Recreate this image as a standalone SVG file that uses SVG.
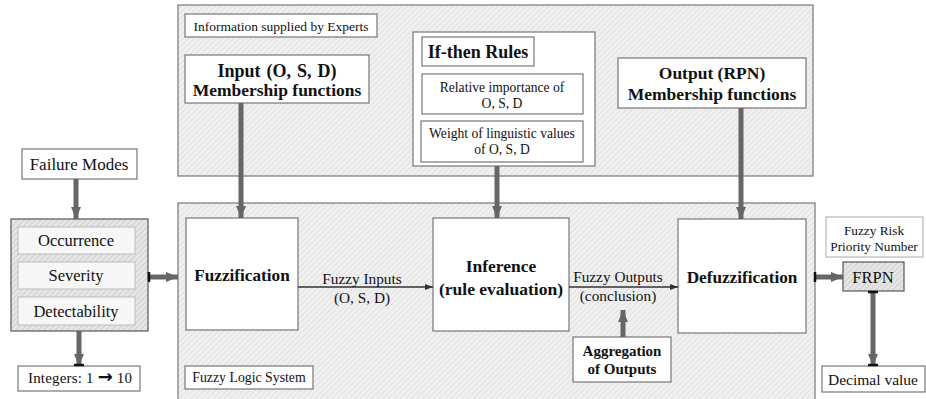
<svg xmlns="http://www.w3.org/2000/svg" width="926" height="399" viewBox="0 0 926 399" font-family="'Liberation Serif', 'Times New Roman', serif">
<defs>
<pattern id="hatch" patternUnits="userSpaceOnUse" width="4" height="4" patternTransform="rotate(45)">
<rect width="4" height="4" fill="#f0f0f0"/>
<line x1="0" y1="0" x2="0" y2="4" stroke="#dadada" stroke-width="1.3"/>
</pattern>
<pattern id="hatch2" patternUnits="userSpaceOnUse" width="4" height="4" patternTransform="rotate(45)">
<rect width="4" height="4" fill="#e6e6e6"/>
<line x1="0" y1="0" x2="0" y2="4" stroke="#c8c8c8" stroke-width="1.5"/>
</pattern>
<marker id="thick" markerUnits="userSpaceOnUse" markerWidth="14" markerHeight="14" refX="12" refY="7" orient="auto">
<path d="M0,2 L12,7 L0,12 Z" fill="#666"/>
</marker>
<marker id="thin" markerUnits="userSpaceOnUse" markerWidth="10" markerHeight="10" refX="8" refY="5" orient="auto">
<path d="M0,2 L8,5 L0,8 Z" fill="#333"/>
</marker>
</defs>
<style>
text{font-family:'Liberation Serif','Times New Roman',serif;fill:#111;text-anchor:middle}
.b{font-weight:bold}
.box{fill:#fff;stroke:#777;stroke-width:1.2}
.panel{fill:url(#hatch);stroke:#777;stroke-width:1.2}
.ta{stroke:#666;stroke-width:5;fill:none;marker-end:url(#thick)}
.na{stroke:#333;stroke-width:1.5;fill:none;marker-end:url(#thin)}
.tick{stroke:#111;stroke-width:2.5}
</style>

<g id="experts-panel">
<rect class="panel" x="178" y="5" width="635" height="171"/>
</g>
<g id="fls-panel">
<rect class="panel" x="178" y="203" width="637" height="200"/>
</g>

<g id="experts-label">
<rect class="box" x="185" y="14" width="192" height="23"/>
<text x="281" y="31" font-size="13.5">Information supplied by Experts</text>
</g>

<g id="input-mf">
<rect class="box" x="185" y="55" width="184" height="48"/>
<text class="b" x="277" y="77" font-size="18" word-spacing="1.5">Input (O, S, D)</text>
<text class="b" x="277" y="96" font-size="17.5">Membership functions</text>
</g>

<g id="rules">
<rect class="box" x="413" y="32" width="182" height="134"/>
<rect class="box" x="422" y="37" width="112" height="29"/>
<text class="b" x="478" y="58" font-size="18">If-then Rules</text>
<rect class="box" x="422" y="74" width="161" height="40"/>
<text x="502" y="92" font-size="13.6">Relative importance of</text>
<text x="502" y="108" font-size="13.6">O, S, D</text>
<rect class="box" x="421" y="121" width="162" height="41"/>
<text x="502" y="138" font-size="13.6">Weight of linguistic values</text>
<text x="502" y="154" font-size="13.6">of O, S, D</text>
</g>

<g id="output-mf">
<rect class="box" x="618" y="58" width="188" height="50"/>
<text class="b" x="712" y="79" font-size="17.5">Output (RPN)</text>
<text class="b" x="712" y="100" font-size="17.5">Membership functions</text>
</g>

<g id="failure-modes">
<rect class="box" x="22" y="149" width="115" height="30"/>
<text x="79" y="170" font-size="17">Failure Modes</text>
</g>

<g id="osd">
<rect x="11" y="219" width="137" height="112" fill="url(#hatch2)" stroke="#555" stroke-width="1.2"/>
<rect x="18" y="227" width="117" height="27" fill="#f7f7f7" stroke="#bbb"/>
<text x="76" y="246" font-size="16.5">Occurrence</text>
<rect x="18" y="262" width="117" height="27" fill="#f7f7f7" stroke="#bbb"/>
<text x="76" y="281" font-size="16.5">Severity</text>
<rect x="18" y="297" width="117" height="28" fill="#f7f7f7" stroke="#bbb"/>
<text x="76" y="317" font-size="16.5">Detectability</text>
</g>

<g id="integers">
<rect class="box" x="18" y="366" width="122" height="25"/>
<text x="80" y="383" font-size="15" textLength="104" lengthAdjust="spacing">Integers: 1 <tspan font-weight="bold" font-size="18" font-family="DejaVu Sans">→</tspan> 10</text>
</g>

<g id="fuzzification">
<rect class="box" x="186" y="218" width="112" height="112"/>
<text class="b" x="242" y="281" font-size="17.2">Fuzzification</text>
</g>

<g id="inference">
<rect class="box" x="433" y="218" width="136" height="113"/>
<text class="b" x="501" y="272" font-size="17.5">Inference</text>
<text class="b" x="501" y="295" font-size="17.5">(rule evaluation)</text>
</g>

<g id="aggregation">
<rect class="box" x="573" y="337" width="98" height="45"/>
<text class="b" x="622" y="356" font-size="15">Aggregation</text>
<text class="b" x="622" y="374" font-size="15">of Outputs</text>
</g>

<g id="defuzzification">
<rect class="box" x="678" y="219" width="128" height="114"/>
<text class="b" x="742" y="283" font-size="17.2">Defuzzification</text>
</g>

<g id="fls-label">
<rect class="box" x="185" y="366" width="128" height="23"/>
<text x="249" y="382" font-size="13.8">Fuzzy Logic System</text>
</g>

<g id="frpn-label">
<rect x="826" y="217" width="97" height="40" fill="#fff" stroke="#aaa"/>
<text x="874" y="235" font-size="13.3">Fuzzy Risk</text>
<text x="874" y="251" font-size="13.3">Priority Number</text>
</g>

<g id="frpn">
<rect x="843" y="262" width="61" height="29" fill="url(#hatch2)" stroke="#555" stroke-width="1.2"/>
<text x="873" y="283" font-size="16.5">FRPN</text>
</g>

<g id="decimal">
<rect class="box" x="822" y="366" width="103" height="26"/>
<text x="873" y="385" font-size="15.5">Decimal value</text>
</g>

<g id="connectors">
<line class="ta" x1="76" y1="179" x2="76" y2="219"/>
<line class="ta" x1="79" y1="331" x2="79" y2="366"/>
<line class="tick" x1="74" y1="365" x2="84" y2="365"/>
<line class="ta" x1="149" y1="277" x2="178" y2="277"/>
<line class="tick" x1="149" y1="272" x2="149" y2="282"/>
<line class="ta" x1="241" y1="103" x2="241" y2="218"/>
<line class="ta" x1="497" y1="166" x2="497" y2="218"/>
<line class="ta" x1="741" y1="108" x2="741" y2="219"/>
<line class="na" x1="298" y1="287" x2="433" y2="287"/>
<line class="na" x1="569" y1="287" x2="678" y2="287"/>
<line class="ta" x1="623" y1="337" x2="623" y2="310"/>
<line class="ta" x1="816" y1="277" x2="843" y2="277"/>
<line class="tick" x1="815" y1="272" x2="815" y2="282"/>
<line class="ta" x1="873" y1="291" x2="873" y2="366"/>
<line class="tick" x1="868" y1="292" x2="878" y2="292"/>
<line class="tick" x1="868" y1="365" x2="878" y2="365"/>
</g>

<g id="connector-labels">
<text x="362" y="284" font-size="15.3">Fuzzy Inputs</text>
<text x="362" y="303" font-size="15.3">(O, S, D)</text>
<text x="618" y="282" font-size="15.3">Fuzzy Outputs</text>
<text x="618" y="301" font-size="15.3">(conclusion)</text>
</g>
</svg>
